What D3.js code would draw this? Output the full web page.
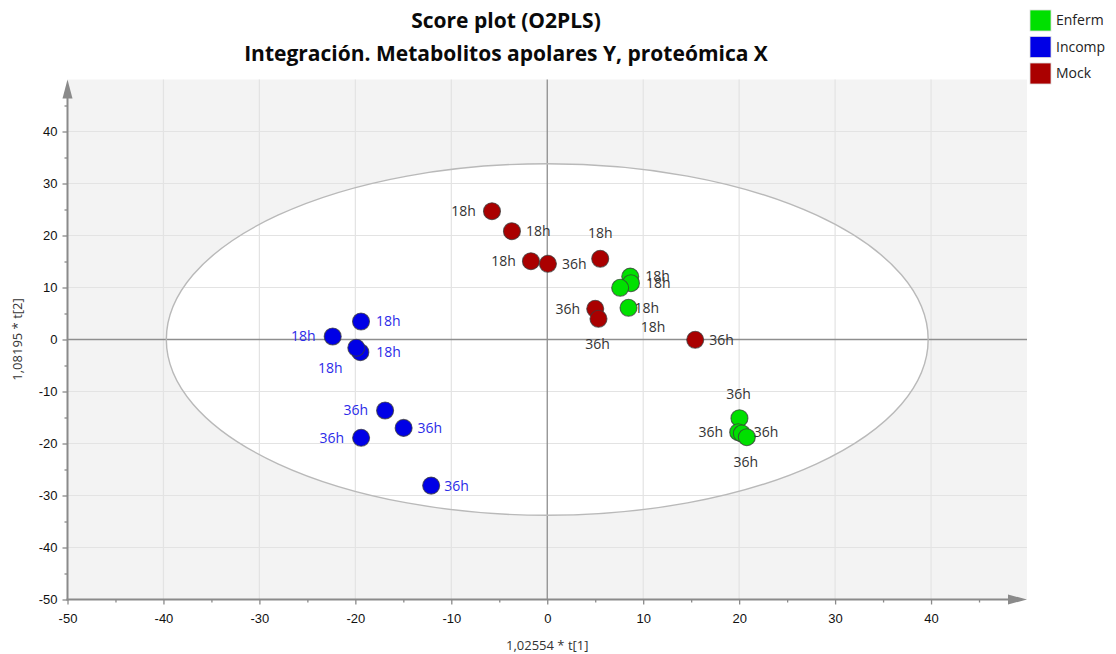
<!DOCTYPE html>
<html>
<head>
<meta charset="utf-8">
<script src="https://cdn.jsdelivr.net/npm/d3@7/dist/d3.min.js"></script>
<style>
  html, body { margin: 0; padding: 0; background: #fff; }
  svg { display: block; font-family: "Open Sans", "Noto Sans", sans-serif; }
</style>
</head>
<body>
<svg id="chart" width="1116" height="654"></svg>
<script>
// Score plot (O2PLS) – t[1] vs t[2] scores per sample
const groups = ["Enferm", "Incomp", "Mock"];
const groupColors = ["#00e000", "#0000e6", "#aa0000"];

const enfermT1 = [8.65, 8.72, 7.60, 8.47, 20.03, 19.90, 20.28, 20.80];
const enfermT2 = [12.10, 10.83, 9.94, 6.10, -15.13, -17.83, -18.08, -18.79];
const enfermTime = ["18h", "18h", "18h", "18h", "36h", "36h", "36h", "36h"];

const incompT1 = [-19.41, -22.36, -19.48, -19.90, -16.90, -14.97, -19.40, -12.10];
const incompT2 = [3.46, 0.58, -2.44, -1.60, -13.65, -17.00, -18.90, -28.10];
const incompTime = ["18h", "18h", "18h", "18h", "36h", "36h", "36h", "36h"];

const mockT1 = [-5.76, -3.68, -1.70, 0.07, 5.52, 5.00, 5.34, 15.42];
const mockT2 = [24.67, 20.83, 15.06, 14.56, 15.52, 5.90, 3.98, -0.06];
const mockTime = ["18h", "18h", "18h", "36h", "18h", "36h", "36h", "36h"];

const xTicks = [-50, -40, -30, -20, -10, 0, 10, 20, 30, 40];
const yTicks = [-50, -40, -30, -20, -10, 0, 10, 20, 30, 40];
const minorTicks = [-45, -35, -25, -15, -5, 5, 15, 25, 35, 45];

// Hotelling T2 ellipse semi-axes (score units)
const ellipseT1 = 39.7;
const ellipseT2 = 33.8;

// Label anchoring for each sample label: [dx, dy, text-anchor]
const enfermLabelPos = [[15, 0, "start"], [15, 0, "start"], [33, 39, "middle"], [6, 0, "start"],
                        [-1, -24, "middle"], [-15, 0, "end"], [12, -1, "start"], [-1, 25, "middle"]];
const incompLabelPos = [[15, 0, "start"], [-17, 0, "end"], [16, 0, "start"], [-26, 20, "middle"],
                        [-17, 0, "end"], [14, 0, "start"], [-17, 0, "end"], [13, 0, "start"]];
const mockLabelPos = [[-16, 0, "end"], [14, 0, "start"], [-15, 0, "end"], [14, 0, "start"],
                      [0, -26, "middle"], [-15, 0, "end"], [-1, 25, "middle"], [14, 0, "start"]];

const series = [
  { name: "Incomp", t1: incompT1, t2: incompT2, time: incompTime, pos: incompLabelPos, labelColor: "#2b2be8" },
  { name: "Mock", t1: mockT1, t2: mockT2, time: mockTime, pos: mockLabelPos, labelColor: "#333333" },
  { name: "Enferm", t1: enfermT1, t2: enfermT2, time: enfermTime, pos: enfermLabelPos, labelColor: "#333333" }
];

const svg = d3.select("#chart");
const color = d3.scaleOrdinal().domain(groups).range(groupColors);

const plot = { left: 67.5, right: 1027, top: 79.5, bottom: 599.5 };
const x = d3.scaleLinear().domain([-50, 50]).range([plot.left, plot.right]);
const y = d3.scaleLinear().domain([-50, 50]).range([plot.bottom, plot.top]);

// plot background
svg.append("rect")
  .attr("x", plot.left).attr("y", plot.top)
  .attr("width", plot.right - plot.left).attr("height", plot.bottom - plot.top)
  .attr("fill", "#f3f3f3");

// ellipse interior
svg.append("ellipse")
  .attr("cx", x(0)).attr("cy", y(0))
  .attr("rx", x(ellipseT1) - x(0)).attr("ry", y(0) - y(ellipseT2))
  .attr("fill", "#ffffff");

// grid
const grid = svg.append("g");
grid.selectAll("line.gx").data(xTicks.filter(d => d !== 0 && d !== -50)).join("line")
  .attr("x1", d => x(d)).attr("x2", d => x(d))
  .attr("y1", plot.top).attr("y2", plot.bottom)
  .attr("stroke", "#e3e3e3").attr("stroke-width", 1.2);
grid.selectAll("line.gy").data(yTicks.filter(d => d !== 0 && d !== -50)).join("line")
  .attr("x1", plot.left).attr("x2", plot.right)
  .attr("y1", d => y(d)).attr("y2", d => y(d))
  .attr("stroke", "#e3e3e3").attr("stroke-width", 1.2);

// zero lines
svg.append("line")
  .attr("x1", x(0)).attr("x2", x(0)).attr("y1", plot.top).attr("y2", plot.bottom)
  .attr("stroke", "#8e8e8e").attr("stroke-width", 1.3);
svg.append("line")
  .attr("x1", plot.left).attr("x2", plot.right).attr("y1", y(0)).attr("y2", y(0))
  .attr("stroke", "#8e8e8e").attr("stroke-width", 1.3);

// ellipse outline
svg.append("ellipse")
  .attr("cx", x(0)).attr("cy", y(0))
  .attr("rx", x(ellipseT1) - x(0)).attr("ry", y(0) - y(ellipseT2))
  .attr("fill", "none").attr("stroke", "#b9b9b9").attr("stroke-width", 1.4);

// axes
const axisColor = "#8a8a8a";
const plainNum = d => String(d);
function styleAxis(g) {
  g.select(".domain").remove();
  g.selectAll(".tick line").attr("stroke", axisColor).attr("stroke-width", 1.3);
  g.selectAll(".tick text").attr("fill", "#111").style("font-size", "13px");
}
svg.append("g").attr("transform", `translate(0,${plot.bottom})`)
  .call(d3.axisBottom(x).tickValues(xTicks).tickSize(5).tickPadding(9).tickFormat(plainNum))
  .call(styleAxis);
svg.append("g").attr("transform", `translate(0,${plot.bottom})`)
  .call(d3.axisBottom(x).tickValues(minorTicks).tickSize(3).tickFormat(""))
  .call(styleAxis);
svg.append("g").attr("transform", `translate(${plot.left},0)`)
  .call(d3.axisLeft(y).tickValues(yTicks).tickSize(5).tickPadding(5).tickFormat(plainNum))
  .call(styleAxis);
svg.append("g").attr("transform", `translate(${plot.left},0)`)
  .call(d3.axisLeft(y).tickValues(minorTicks).tickSize(3).tickFormat(""))
  .call(styleAxis);

// axis lines with arrowheads
svg.append("line")
  .attr("x1", plot.left - 1).attr("x2", plot.right - 14).attr("y1", plot.bottom).attr("y2", plot.bottom)
  .attr("stroke", axisColor).attr("stroke-width", 2);
svg.append("path")
  .attr("d", `M${plot.right},${plot.bottom} L${plot.right - 19},${plot.bottom - 5} L${plot.right - 19},${plot.bottom + 5} Z`)
  .attr("fill", axisColor);
svg.append("line")
  .attr("x1", plot.left).attr("x2", plot.left).attr("y1", plot.bottom + 1).attr("y2", plot.top + 14)
  .attr("stroke", axisColor).attr("stroke-width", 2);
svg.append("path")
  .attr("d", `M${plot.left},${plot.top} L${plot.left - 5},${plot.top + 19} L${plot.left + 5},${plot.top + 19} Z`)
  .attr("fill", axisColor);

// axis titles
svg.append("text")
  .attr("x", x(0)).attr("y", 650)
  .attr("text-anchor", "middle").attr("fill", "#333").style("font-size", "13px")
  .text("1,02554 * t[1]");
svg.append("text")
  .attr("transform", `translate(22,${y(0)}) rotate(-90)`)
  .attr("text-anchor", "middle").attr("fill", "#333").style("font-size", "13px")
  .text("1,08195 * t[2]");

// sample points and their time labels
const pointsLayer = svg.append("g");
const labelsLayer = svg.append("g");
series.forEach(s => {
  const rows = s.t1.map((v, i) => ({ t1: v, t2: s.t2[i], time: s.time[i], pos: s.pos[i] }));
  pointsLayer.append("g").selectAll("circle").data(rows).join("circle")
    .attr("cx", d => x(d.t1)).attr("cy", d => y(d.t2)).attr("r", 8.5)
    .attr("fill", color(s.name))
    .attr("stroke", "#3a3a3a").attr("stroke-opacity", 0.75).attr("stroke-width", 1.1);
  labelsLayer.append("g").selectAll("text").data(rows).join("text")
    .attr("x", d => x(d.t1) + d.pos[0]).attr("y", d => y(d.t2) + d.pos[1])
    .attr("dy", "0.35em")
    .attr("text-anchor", d => d.pos[2])
    .attr("fill", s.labelColor).style("font-size", "14px")
    .text(d => d.time);
});

// title
const title = svg.append("g").attr("text-anchor", "middle").attr("fill", "#0a0a0a")
  .style("font-weight", "bold").style("font-size", "21px");
title.append("text").attr("x", 506).attr("y", 28).text("Score plot (O2PLS)");
title.append("text").attr("x", 506).attr("y", 61).text("Integración. Metabolitos apolares Y, proteómica X");

// legend
const legend = svg.append("g");
const legendRows = legend.selectAll("g").data(groups).join("g")
  .attr("transform", (d, i) => `translate(1030,${10 + i * 26.5})`);
legendRows.append("rect")
  .attr("width", 21).attr("height", 21)
  .attr("fill", d => color(d)).attr("stroke", "#dddddd").attr("stroke-width", 0.8);
legendRows.append("text")
  .attr("x", 26).attr("y", 10.5).attr("dy", "0.35em")
  .attr("fill", "#222").style("font-size", "14px")
  .text(d => d);
</script>
</body>
</html>
